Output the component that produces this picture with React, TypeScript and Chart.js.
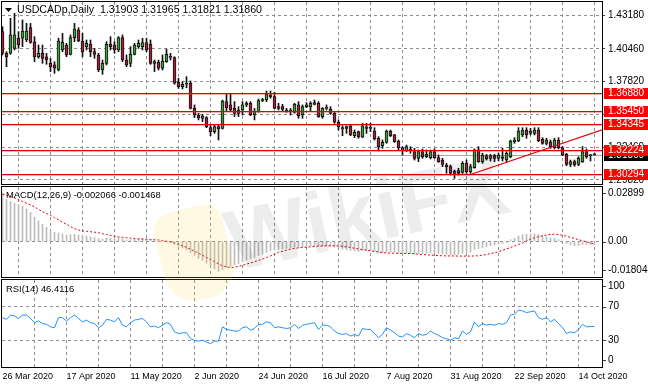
import React, { useEffect, useRef } from "react";
import { Chart, registerables } from "chart.js";

Chart.register(...registerables);

const FAMILY = "'Liberation Sans', Arial, sans-serif";
const GRID_COLOR = "#8e8e8e";
const BULL = "#3c9f3c";
const BEAR = "#a3223a";
const LEVEL_COLOR = "#e00000";
const X_MIN = -0.125;
const X_MAX = 149.875;

const SYMBOL_TITLE = "USDCADp,Daily  1.31903 1.31965 1.31821 1.31860";
const MACD_TITLE = "MACD(12,26,9) -0.002066 -0.001468";
const RSI_TITLE = "RSI(14) 46.4116";

const DATE_BARS = [0, 16, 32, 48, 64, 80, 96, 112, 128, 144];
const DATE_LABELS = ["26 Mar 2020", "17 Apr 2020", "11 May 2020", "2 Jun 2020", "24 Jun 2020", "16 Jul 2020", "7 Aug 2020", "31 Aug 2020", "22 Sep 2020", "14 Oct 2020"];
const GRID_BARS = [8, 16, 24, 32, 40, 48, 56, 64, 72, 80, 88, 96, 104, 112, 120, 128, 136, 144];

const OPEN = [
  1.4187, 1.4011, 1.4011, 1.4051, 1.4133, 1.4133, 1.4119, 1.4219, 1.4105, 1.3983,
  1.4011, 1.3983, 1.3929, 1.3916, 1.3875, 1.4038, 1.4078, 1.4002, 1.4138, 1.4200,
  1.4111, 1.4065, 1.4084, 1.4024, 1.3997, 1.3875, 1.3929, 1.4084, 1.4078, 1.4038,
  1.4138, 1.3956, 1.3929, 1.4002, 1.4065, 1.4065, 1.4097, 1.4084, 1.3929, 1.3937,
  1.3889, 1.3943, 1.3983, 1.3975, 1.3775, 1.3740, 1.3759, 1.3767, 1.3563, 1.3509,
  1.3482, 1.3488, 1.3406, 1.3374, 1.3414, 1.3401, 1.3618, 1.3591, 1.3563, 1.3550,
  1.3550, 1.3591, 1.3604, 1.3509, 1.3536, 1.3626, 1.3631, 1.3672, 1.3658, 1.3563,
  1.3577, 1.3550, 1.3536, 1.3531, 1.3591, 1.3509, 1.3577, 1.3577, 1.3596, 1.3604,
  1.3496, 1.3563, 1.3558, 1.3523, 1.3450, 1.3406, 1.3401, 1.3422, 1.3341, 1.3374,
  1.3328, 1.3412, 1.3401, 1.3379, 1.3320, 1.3260, 1.3287, 1.3379, 1.3347, 1.3298,
  1.3244, 1.3219, 1.3233, 1.3211, 1.3157, 1.3211, 1.3170, 1.3162, 1.3211, 1.3162,
  1.3143, 1.3103, 1.3089, 1.3035, 1.3057, 1.3043, 1.3116, 1.3049, 1.3081, 1.3225,
  1.3130, 1.3179, 1.3157, 1.3179, 1.3157, 1.3170, 1.3143, 1.3170, 1.3292, 1.3298,
  1.3347, 1.3387, 1.3360, 1.3360, 1.3387, 1.3311, 1.3279, 1.3292, 1.3244, 1.3306,
  1.3244, 1.3189, 1.3108, 1.3130, 1.3108, 1.3130, 1.3211, 1.3179, 1.31903,
];
const HIGH = [
  1.4227, 1.4024, 1.4295, 1.4336, 1.4187, 1.4282, 1.4254, 1.4254, 1.4146, 1.4078,
  1.4078, 1.4011, 1.3970, 1.3943, 1.4133, 1.4173, 1.4092, 1.4160, 1.4254, 1.4219,
  1.4173, 1.4119, 1.4119, 1.4051, 1.4011, 1.3956, 1.4105, 1.4146, 1.4105, 1.4146,
  1.4160, 1.3997, 1.4065, 1.4092, 1.4119, 1.4133, 1.4133, 1.4119, 1.3956, 1.3956,
  1.3997, 1.4046, 1.4011, 1.3983, 1.3807, 1.3780, 1.3821, 1.3786, 1.3591, 1.3523,
  1.3515, 1.3496, 1.3428, 1.3428, 1.3428, 1.3631, 1.3677, 1.3677, 1.3618, 1.3577,
  1.3618, 1.3618, 1.3618, 1.3563, 1.3639, 1.3645, 1.3704, 1.3704, 1.3693, 1.3604,
  1.3596, 1.3563, 1.3563, 1.3604, 1.3618, 1.3591, 1.3610, 1.3618, 1.3631, 1.3618,
  1.3569, 1.3591, 1.3577, 1.3536, 1.3469, 1.3422, 1.3422, 1.3428, 1.3387, 1.3379,
  1.3441, 1.3441, 1.3441, 1.3406, 1.3333, 1.3306, 1.3387, 1.3387, 1.3352, 1.3306,
  1.3252, 1.3265, 1.3252, 1.3238, 1.3225, 1.3233, 1.3225, 1.3225, 1.3233, 1.3184,
  1.3157, 1.3116, 1.3103, 1.3062, 1.3076, 1.3130, 1.3143, 1.3108, 1.3233, 1.3252,
  1.3198, 1.3189, 1.3189, 1.3189, 1.3198, 1.3238, 1.3211, 1.3306, 1.3325, 1.3406,
  1.3406, 1.3406, 1.3401, 1.3406, 1.3406, 1.3325, 1.3320, 1.3306, 1.3320, 1.3325,
  1.3252, 1.3198, 1.3143, 1.3143, 1.3170, 1.3252, 1.3233, 1.3189, 1.31965,
];
const LOW = [
  1.3997, 1.3902, 1.4002, 1.4038, 1.4051, 1.4065, 1.4105, 1.4092, 1.3943, 1.3970,
  1.3929, 1.3921, 1.3862, 1.3848, 1.3867, 1.4024, 1.3983, 1.3997, 1.4105, 1.4105,
  1.3983, 1.4038, 1.3983, 1.3970, 1.3862, 1.3840, 1.3916, 1.4038, 1.4011, 1.4024,
  1.3943, 1.3902, 1.3902, 1.3997, 1.4051, 1.4038, 1.4024, 1.3921, 1.3862, 1.3875,
  1.3875, 1.3937, 1.3956, 1.3759, 1.3726, 1.3721, 1.3731, 1.3558, 1.3488, 1.3469,
  1.3455, 1.3406, 1.3341, 1.3360, 1.3306, 1.3395, 1.3536, 1.3536, 1.3496, 1.3496,
  1.3509, 1.3577, 1.3504, 1.3469, 1.3531, 1.3618, 1.3618, 1.3645, 1.3558, 1.3550,
  1.3536, 1.3531, 1.3509, 1.3523, 1.3482, 1.3482, 1.3569, 1.3536, 1.3591, 1.3490,
  1.3482, 1.3550, 1.3515, 1.3441, 1.3387, 1.3341, 1.3360, 1.3341, 1.3325, 1.3320,
  1.3325, 1.3360, 1.3374, 1.3306, 1.3217, 1.3238, 1.3279, 1.3333, 1.3287, 1.3225,
  1.3184, 1.3211, 1.3198, 1.3143, 1.3130, 1.3157, 1.3162, 1.3152, 1.3157, 1.3124,
  1.3089, 1.3035, 1.3021, 1.2994, 1.3021, 1.3035, 1.3035, 1.3035, 1.3076, 1.3124,
  1.3116, 1.3143, 1.3135, 1.3130, 1.3135, 1.3135, 1.3130, 1.3162, 1.3279, 1.3292,
  1.3333, 1.3320, 1.3347, 1.3347, 1.3292, 1.3271, 1.3265, 1.3238, 1.3233, 1.3233,
  1.3179, 1.3097, 1.3089, 1.3092, 1.3097, 1.3124, 1.3157, 1.3135, 1.31821,
];
const CLOSE = [
  1.4011, 1.3983, 1.4160, 1.4160, 1.4078, 1.4192, 1.4192, 1.4100, 1.3983, 1.4011,
  1.3970, 1.3956, 1.3902, 1.3889, 1.4111, 1.4100, 1.3997, 1.4138, 1.4208, 1.4111,
  1.4024, 1.4092, 1.4024, 1.4002, 1.3875, 1.3929, 1.4084, 1.4065, 1.4038, 1.4138,
  1.3956, 1.3916, 1.4002, 1.4078, 1.4092, 1.4097, 1.4038, 1.3929, 1.3943, 1.3889,
  1.3948, 1.4002, 1.3978, 1.3767, 1.3740, 1.3759, 1.3764, 1.3563, 1.3509, 1.3488,
  1.3501, 1.3414, 1.3374, 1.3414, 1.3395, 1.3623, 1.3569, 1.3550, 1.3523, 1.3523,
  1.3591, 1.3604, 1.3509, 1.3542, 1.3626, 1.3631, 1.3677, 1.3658, 1.3563, 1.3577,
  1.3555, 1.3536, 1.3550, 1.3596, 1.3504, 1.3577, 1.3591, 1.3604, 1.3610, 1.3496,
  1.3563, 1.3569, 1.3523, 1.3450, 1.3414, 1.3395, 1.3414, 1.3347, 1.3368, 1.3333,
  1.3422, 1.3401, 1.3406, 1.3314, 1.3252, 1.3287, 1.3379, 1.3341, 1.3292, 1.3244,
  1.3217, 1.3252, 1.3217, 1.3157, 1.3211, 1.3170, 1.3189, 1.3211, 1.3162, 1.3130,
  1.3108, 1.3089, 1.3035, 1.3054, 1.3035, 1.3116, 1.3049, 1.3089, 1.3225, 1.3130,
  1.3184, 1.3152, 1.3179, 1.3157, 1.3184, 1.3157, 1.3198, 1.3298, 1.3306, 1.3379,
  1.3387, 1.3347, 1.3379, 1.3387, 1.3298, 1.3279, 1.3306, 1.3252, 1.3306, 1.3244,
  1.3184, 1.3108, 1.3130, 1.3103, 1.3157, 1.3211, 1.3170, 1.3184, 1.31860,
];

const MACD_MAIN = [
  0.02899, 0.0254, 0.0243, 0.0231, 0.0223, 0.0212, 0.0197, 0.0175, 0.0147, 0.0124,
  0.0104, 0.0085, 0.0068, 0.0054, 0.0051, 0.0045, 0.0038, 0.0041, 0.0043, 0.0039,
  0.0034, 0.0033, 0.0028, 0.0025, 0.0017, 0.0015, 0.0020, 0.0020, 0.0018, 0.0023,
  0.0015, 0.0009, 0.0010, 0.0014, 0.0016, 0.0017, 0.0015, 0.0007, 0.0006, 0.0000,
  -0.0003, -0.0002, -0.0006, -0.0017, -0.0028, -0.0039, -0.0049, -0.0068, -0.0085, -0.0102,
  -0.0115, -0.0130, -0.0147, -0.0165, -0.018044, -0.0170, -0.0158, -0.0150, -0.0141, -0.0133,
  -0.0122, -0.0113, -0.0104, -0.0096, -0.0085, -0.0077, -0.0065, -0.0056, -0.0051, -0.0047,
  -0.0045, -0.0041, -0.0037, -0.0034, -0.0035, -0.0033, -0.0029, -0.0027, -0.0025, -0.0028,
  -0.0027, -0.0026, -0.0028, -0.0034, -0.0041, -0.0046, -0.0050, -0.0054, -0.0056, -0.0060,
  -0.0056, -0.0056, -0.0056, -0.0061, -0.0068, -0.0069, -0.0063, -0.0063, -0.0065, -0.0069,
  -0.0072, -0.0071, -0.0072, -0.0076, -0.0072, -0.0072, -0.0071, -0.0068, -0.0069, -0.0071,
  -0.0074, -0.0077, -0.0080, -0.0079, -0.0078, -0.0071, -0.0069, -0.0064, -0.0047, -0.0043,
  -0.0036, -0.0032, -0.0026, -0.0021, -0.0016, -0.0011, -0.0005, 0.0011, 0.0020, 0.0034,
  0.0041, 0.0043, 0.0045, 0.0046, 0.0041, 0.0034, 0.0029, 0.0021, 0.0018, 0.0011,
  0.0002, -0.0011, -0.0019, -0.0025, -0.0024, -0.0017, -0.0018, -0.0019, -0.002066,
];
const MACD_SIGNAL = [
  0.0285, 0.0280, 0.0272, 0.0263, 0.0252, 0.0242, 0.0231, 0.0220, 0.0209, 0.0194,
  0.0180, 0.0169, 0.0158, 0.0144, 0.0130, 0.0116, 0.0105, 0.0090, 0.0077, 0.0070,
  0.0064, 0.0062, 0.0059, 0.0056, 0.0053, 0.0047, 0.0042, 0.0036, 0.0032, 0.0028,
  0.0025, 0.0023, 0.0020, 0.0018, 0.0016, 0.0015, 0.0014, 0.0012, 0.0011, 0.0009,
  0.0006, 0.0002, -0.0002, -0.0009, -0.0017, -0.0026, -0.0036, -0.0047, -0.0059, -0.0071,
  -0.0083, -0.0096, -0.0109, -0.0122, -0.0135, -0.0147, -0.0153, -0.0157, -0.0155, -0.0150,
  -0.0144, -0.0136, -0.0130, -0.0122, -0.0114, -0.0106, -0.0097, -0.0087, -0.0077, -0.0065,
  -0.0059, -0.0052, -0.0046, -0.0042, -0.0038, -0.0036, -0.0034, -0.0032, -0.0030, -0.0028,
  -0.0027, -0.0026, -0.0026, -0.0026, -0.0027, -0.0029, -0.0033, -0.0036, -0.0041, -0.0045,
  -0.0049, -0.0052, -0.0056, -0.0060, -0.0063, -0.0067, -0.0069, -0.0070, -0.0071, -0.0071,
  -0.0072, -0.0072, -0.0072, -0.0074, -0.0077, -0.0079, -0.0080, -0.0082, -0.0083, -0.0085,
  -0.0086, -0.0087, -0.0087, -0.0087, -0.0088, -0.0088, -0.0088, -0.0088, -0.0087, -0.0086,
  -0.0082, -0.0078, -0.0073, -0.0068, -0.0061, -0.0053, -0.0045, -0.0036, -0.0027, -0.0018,
  -0.0009, 0.0002, 0.0014, 0.0023, 0.0029, 0.0035, 0.0039, 0.0043, 0.0044, 0.0042,
  0.0037, 0.0032, 0.0025, 0.0018, 0.0011, 0.0005, -0.0002, -0.0009, -0.001468,
];
const RSI_VALUES = [
  56.7, 55, 60, 59, 56, 60, 60, 56, 51, 53,
  50, 49, 46, 45, 57, 57, 53, 57, 60, 56,
  52, 54, 51, 50, 45, 48, 55, 54, 52, 57,
  48, 46, 51, 54, 55, 56, 52, 46, 47, 45,
  48, 51, 49, 40, 38, 39, 39, 32, 30, 29,
  30, 28, 26, 29, 29, 46, 43, 42, 41, 41,
  45, 46, 42, 44, 49, 49, 52, 51, 45, 46,
  45, 44, 45, 49, 44, 48, 49, 50, 51, 43,
  48, 48, 46, 41, 38, 37, 38, 35, 37, 35,
  44, 43, 43, 38, 33, 37, 45, 42, 39, 35,
  34, 38, 36, 33, 38, 36, 37, 41, 38, 36,
  33, 32, 30, 33, 32, 41, 37, 40, 52, 46,
  50, 48, 49, 48, 50, 49, 51, 60, 61, 66,
  65, 63, 64, 65, 57, 55, 57, 52, 55, 50,
  45, 38, 40, 39, 43, 49, 46, 46.5, 46.41,
];

const PRICE_TICKS = [1.4318, 1.4046, 1.3782, 1.3514, 1.3246, 1.2982];
const LEVELS = [1.3688, 1.3545, 1.34345, 1.32224, 1.30294];
const BID = 1.3186;
const TREND_BARS = [117, 150];
const TREND_PRICES = [1.3025, 1.3389];
const MACD_TICKS = [0.02899, 0, -0.018044];
const MACD_TICK_TEXT = ["0.02899", "0.00", "-0.018044"];
const RSI_TICKS = [100, 70, 30, 0];

function frame(chart: any) {
  const { ctx, chartArea: a } = chart;
  ctx.save();
  ctx.strokeStyle = "#000";
  ctx.lineWidth = 1;
  ctx.setLineDash([]);
  ctx.strokeRect(a.left - 0.5, a.top - 0.5, a.right - a.left + 1, a.bottom - a.top + 1);
  ctx.restore();
}

function xScale(labels: boolean, height: number) {
  return {
    type: "linear",
    min: X_MIN,
    max: X_MAX,
    offset: false,
    afterBuildTicks: (s: any) => {
      s.ticks = (labels ? [0, ...GRID_BARS] : GRID_BARS).map((v) => ({ value: v }));
    },
    afterFit: (s: any) => {
      s.height = height;
      s.paddingLeft = 0;
      s.paddingRight = 0;
    },
    grid: {
      color: (c: any) => (c.tick && c.tick.value === 0 ? "rgba(0,0,0,0)" : GRID_COLOR),
      lineWidth: 1,
      drawTicks: false,
    },
    border: { display: false, dash: [3, 3] },
    ticks: labels
      ? {
          display: true,
          autoSkip: false,
          maxRotation: 0,
          minRotation: 0,
          align: "start",
          padding: 4,
          color: "#000",
          font: { family: FAMILY, size: 9 },
          callback: (v: any) => {
            const k = DATE_BARS.indexOf(Number(v));
            return k >= 0 ? DATE_LABELS[k] : "";
          },
        }
      : { display: false },
  };
}

function yScale(min: number, max: number, grid: number[], showLabels: boolean) {
  return {
    position: "right",
    min,
    max,
    afterBuildTicks: (s: any) => {
      s.ticks = grid.map((v) => ({ value: v }));
    },
    afterFit: (s: any) => {
      s.width = 46;
      s.paddingTop = 0;
      s.paddingBottom = 0;
    },
    grid: { color: GRID_COLOR, drawTicks: showLabels, tickLength: 3, tickColor: "#404040" },
    border: { display: false, dash: [3, 3] },
    ticks: showLabels
      ? {
          display: true,
          padding: 3,
          color: "#000",
          font: { family: FAMILY, size: 10 },
          callback: (v: any) => Number(v).toFixed(5),
        }
      : { display: false },
  };
}

function rightLabels(chart: any, values: number[], texts: string[]) {
  const { ctx, chartArea: a } = chart;
  const y = chart.scales.y;
  ctx.save();
  ctx.font = `10px ${FAMILY}`;
  ctx.fillStyle = "#000";
  ctx.textBaseline = "middle";
  ctx.textAlign = "left";
  ctx.strokeStyle = "#404040";
  ctx.lineWidth = 1;
  values.forEach((v, i) => {
    let py = y.getPixelForValue(v);
    py = Math.min(Math.max(py, a.top + 6), a.bottom - 7);
    const r = Math.round(py) + 0.5;
    ctx.beginPath();
    ctx.moveTo(a.right + 1, r);
    ctx.lineTo(a.right + 4, r);
    ctx.stroke();
    ctx.fillText(texts[i], a.right + 6, py);
  });
  ctx.restore();
}

function priceTag(chart: any, value: number, text: string, bg: string) {
  const { ctx, chartArea: a, width } = chart;
  const py = Math.round(chart.scales.y.getPixelForValue(value));
  ctx.save();
  ctx.fillStyle = bg;
  ctx.fillRect(a.right + 2, py - 5, width - a.right - 2, 11);
  ctx.fillStyle = "#fff";
  ctx.font = `10px ${FAMILY}`;
  ctx.textBaseline = "middle";
  ctx.textAlign = "left";
  ctx.fillText(text, a.right + 6, py + 0.5);
  ctx.restore();
}

function hLine(chart: any, value: number, color: string, halo?: string) {
  const { ctx, chartArea: a } = chart;
  const r = Math.round(chart.scales.y.getPixelForValue(value));
  ctx.save();
  ctx.setLineDash([]);
  ctx.globalAlpha = 1;
  if (halo) {
    ctx.fillStyle = halo;
    ctx.fillRect(a.left, r + 1, a.right - a.left, 1);
  }
  ctx.fillStyle = color;
  ctx.fillRect(a.left, r, a.right - a.left, 1);
  ctx.restore();
}

const BASE_OPTIONS = {
  animation: false,
  responsive: false,
  maintainAspectRatio: false,
  devicePixelRatio: 1,
  events: [],
  plugins: { legend: { display: false }, tooltip: { enabled: false } },
};

function mainConfig(): any {
  const wicks = LOW.map((lo, i) => ({ x: i, y: [lo, HIGH[i]] }));
  const bodies = OPEN.map((o, i) => ({ x: i, y: [o, CLOSE[i]] }));
  const colors = OPEN.map((o, i) => (CLOSE[i] >= o ? BULL : BEAR));
  return {
    type: "bar",
    data: {
      datasets: [
        {
          type: "line",
          data: TREND_BARS.map((b, i) => ({ x: b, y: TREND_PRICES[i] })),
          borderColor: LEVEL_COLOR,
          borderWidth: 1.2,
          pointRadius: 0,
          order: 0,
        },
        {
          type: "bar",
          data: bodies,
          backgroundColor: colors,
          borderColor: "#111",
          borderWidth: 1,
          borderSkipped: false,
          barThickness: 3,
          minBarLength: 1,
          grouped: false,
          order: 1,
        },
        {
          type: "bar",
          data: wicks,
          backgroundColor: "#111",
          barThickness: 1,
          grouped: false,
          order: 2,
        },
      ],
    },
    options: {
      ...BASE_OPTIONS,
      layout: { padding: { left: 2, top: 2, right: 0, bottom: 0 } },
      scales: {
        x: xScale(false, 2),
        y: yScale(1.29482, 1.44278, PRICE_TICKS, true),
      },
    },
    plugins: [
      {
        id: "mainDeco",
        beforeDatasetsDraw(chart: any) {
          hLine(chart, BID, "#a8a8a8");
        },
        afterDatasetsDraw(chart: any) {
          LEVELS.forEach((v) => hLine(chart, v, LEVEL_COLOR, "rgba(235,40,40,0.35)"));
        },
        afterDraw(chart: any) {
          const { ctx } = chart;
          frame(chart);
          priceTag(chart, BID, BID.toFixed(5), "#000");
          LEVELS.forEach((v) => priceTag(chart, v, v.toFixed(5), "#ff0000"));
          ctx.save();
          ctx.fillStyle = "#000";
          ctx.beginPath();
          ctx.moveTo(5, 8);
          ctx.lineTo(12, 8);
          ctx.lineTo(8.5, 12);
          ctx.closePath();
          ctx.fill();
          ctx.font = `10.6px ${FAMILY}`;
          ctx.textBaseline = "middle";
          ctx.fillText(SYMBOL_TITLE, 17, 10.5);
          ctx.restore();
        },
      },
    ],
  };
}

function macdConfig(): any {
  return {
    type: "bar",
    data: {
      datasets: [
        {
          type: "line",
          data: MACD_SIGNAL.map((v, i) => ({ x: i, y: v })),
          borderColor: "#e00000",
          borderWidth: 1,
          borderDash: [2, 2],
          pointRadius: 0,
          order: 0,
        },
        {
          type: "bar",
          data: MACD_MAIN.map((v, i) => ({ x: i, y: v })),
          backgroundColor: "#bcbcbc",
          barThickness: 1,
          grouped: false,
          order: 1,
        },
      ],
    },
    options: {
      ...BASE_OPTIONS,
      layout: { padding: { left: 2, top: 2, right: 0, bottom: 0 } },
      scales: {
        x: xScale(false, 1),
        y: yScale(-0.02141, 0.03287, [0], false),
      },
    },
    plugins: [
      {
        id: "macdDeco",
        afterDraw(chart: any) {
          const { ctx } = chart;
          frame(chart);
          rightLabels(chart, MACD_TICKS, MACD_TICK_TEXT);
          ctx.save();
          ctx.font = `9.4px ${FAMILY}`;
          ctx.fillStyle = "#000";
          ctx.textBaseline = "middle";
          ctx.fillText(MACD_TITLE, 6, 10);
          ctx.restore();
        },
      },
    ],
  };
}

function rsiConfig(): any {
  return {
    type: "line",
    data: {
      datasets: [
        {
          data: RSI_VALUES.map((v, i) => ({ x: i, y: v })),
          borderColor: "#1e90ff",
          borderWidth: 1,
          pointRadius: 0,
        },
      ],
    },
    options: {
      ...BASE_OPTIONS,
      layout: { padding: { left: 2, top: 2, right: 0, bottom: 0 } },
      scales: {
        x: xScale(true, 21),
        y: yScale(-1.8, 101.8, [70, 30], false),
      },
    },
    plugins: [
      {
        id: "rsiDeco",
        afterDraw(chart: any) {
          const { ctx } = chart;
          frame(chart);
          rightLabels(chart, RSI_TICKS, RSI_TICKS.map((v) => String(v)));
          ctx.save();
          ctx.font = `9.4px ${FAMILY}`;
          ctx.fillStyle = "#000";
          ctx.textBaseline = "middle";
          ctx.fillText(RSI_TITLE, 6, 11);
          ctx.restore();
        },
      },
    ],
  };
}

export default function App() {
  const mainRef = useRef<HTMLCanvasElement>(null);
  const macdRef = useRef<HTMLCanvasElement>(null);
  const rsiRef = useRef<HTMLCanvasElement>(null);

  useEffect(() => {
    const charts = [
      new Chart(mainRef.current as HTMLCanvasElement, mainConfig()),
      new Chart(macdRef.current as HTMLCanvasElement, macdConfig()),
      new Chart(rsiRef.current as HTMLCanvasElement, rsiConfig()),
    ];
    return () => charts.forEach((c) => c.destroy());
  }, []);

  return (
    <div style={{ position: "absolute", left: 0, top: 0, width: 648, height: 388, background: "#fff", overflow: "hidden" }}>
      <canvas ref={mainRef} width={648} height={186} style={{ position: "absolute", left: 0, top: 0 }} />
      <canvas ref={macdRef} width={648} height={93} style={{ position: "absolute", left: 0, top: 185 }} />
      <canvas ref={rsiRef} width={648} height={110} style={{ position: "absolute", left: 0, top: 278 }} />
      <div
        style={{
          position: "absolute",
          left: 160,
          top: 208,
          width: 70,
          height: 92,
          borderRadius: "18px 18px 30px 30px",
          background: "rgba(255, 205, 60, 0.14)",
          transform: "rotate(-14deg)",
          pointerEvents: "none",
        }}
      />
      <div
        style={{
          position: "absolute",
          left: 236,
          top: 196,
          fontFamily: FAMILY,
          fontWeight: "bold",
          fontSize: 86,
          lineHeight: "90px",
          color: "rgba(0,0,0,0.07)",
          transform: "rotate(-12deg)",
          transformOrigin: "left bottom",
          pointerEvents: "none",
          whiteSpace: "nowrap",
        }}
      >
        WikiFX
      </div>
    </div>
  );
}
